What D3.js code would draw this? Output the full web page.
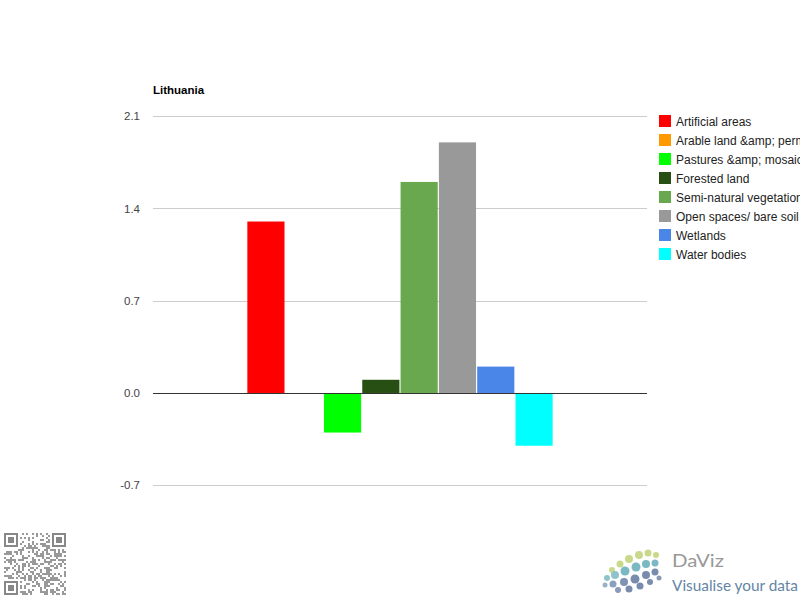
<!DOCTYPE html>
<html><head><meta charset="utf-8">
<script src="https://cdn.jsdelivr.net/npm/d3@7"></script>
<style>html,body{margin:0;padding:0;background:#fff;overflow:hidden}svg{display:block;font-family:"Liberation Sans",Arial,sans-serif}</style>
</head><body>
<script>
const title = "Lithuania";
const categories = ["Lithuania"];
const seriesNames = ["Artificial areas","Arable land &amp; permanent crops","Pastures &amp; mosaic farmland","Forested land","Semi-natural vegetation","Open spaces/ bare soil","Wetlands","Water bodies"];
const seriesColors = ["#ff0000","#ff9900","#00ff00","#274e13","#6aa84f","#999999","#4a86e8","#00ffff"];
const seriesValues = [1.3, 0, -0.3, 0.1, 1.6, 1.9, 0.2, -0.4];
const tickValues = [2.1, 1.4, 0.7, 0.0, -0.7];

(function(){
const W = 800, H = 600;
const svg = d3.select("body").append("svg").attr("width", W).attr("height", H);
const pLeft = 153, pRight = 647, pTop = 116, pBottom = 485.3;

const y = d3.scaleLinear().domain([-0.7, 2.1]).range([pBottom, pTop]);
const x0 = d3.scaleBand().domain(categories).range([pLeft, pRight]).paddingInner(0).paddingOuter(0.309);
const x1 = d3.scaleBand().domain(seriesNames).range([0, x0.bandwidth()]).paddingInner(0.03).paddingOuter(0);

// gridlines
svg.append("g").selectAll("line").data(tickValues).join("line")
  .attr("x1", pLeft).attr("x2", pRight)
  .attr("y1", d => Math.round(y(d)) + 0.5).attr("y2", d => Math.round(y(d)) + 0.5)
  .attr("stroke", "#cccccc").attr("stroke-width", 1);

// axis labels
const fmt = d3.format(".1f");
const yAxis = d3.axisLeft(y).tickValues(tickValues).tickFormat(d => fmt(d).replace("\u2212", "-")).tickSize(0).tickPadding(0);
const ag = svg.append("g").attr("transform", `translate(140,0)`).call(yAxis);
ag.select(".domain").remove();
ag.selectAll("text").attr("fill", "#444").attr("font-size", 11.5).attr("font-family", "Liberation Sans, Arial, sans-serif");

// bars
const g = svg.append("g").attr("transform", `translate(${x0(categories[0])},0)`);
g.selectAll("rect").data(seriesValues.map((v, i) => ({v, name: seriesNames[i], c: seriesColors[i]})))
  .join("rect")
  .attr("x", d => x1(d.name))
  .attr("width", x1.bandwidth())
  .attr("y", d => y(Math.max(0, d.v)))
  .attr("height", d => Math.abs(y(d.v) - y(0)))
  .attr("fill", d => d.c);

// zero line
svg.append("line").attr("x1", pLeft).attr("x2", pRight)
  .attr("y1", Math.round(y(0)) + 0.5).attr("y2", Math.round(y(0)) + 0.5)
  .attr("stroke", "#333").attr("stroke-width", 1);

// title
svg.append("text").attr("x", 153).attr("y", 94).attr("font-size", 11.5).attr("font-weight", "bold").attr("fill", "#000").text(title);

// legend
const lg = svg.append("g").attr("transform", "translate(659,115)");
const items = lg.selectAll("g").data(seriesNames).join("g").attr("transform", (d, i) => `translate(0,${i * 19})`);
items.append("rect").attr("width", 12).attr("height", 12).attr("fill", (d, i) => seriesColors[i]);
items.append("text").attr("x", 17).attr("y", 10.5).attr("font-size", 12).attr("fill", "#222").text(d => d);

// QR-like decoration
const qr = svg.append("g").attr("transform", "translate(4,533)");
const n = 31, cs = 2;
function finder(cx, cy) {
  qr.append("rect").attr("x", cx * cs).attr("y", cy * cs).attr("width", 7 * cs).attr("height", 7 * cs).attr("fill", "#888");
  qr.append("rect").attr("x", (cx + 1) * cs).attr("y", (cy + 1) * cs).attr("width", 5 * cs).attr("height", 5 * cs).attr("fill", "#fff");
  qr.append("rect").attr("x", (cx + 2) * cs).attr("y", (cy + 2) * cs).attr("width", 3 * cs).attr("height", 3 * cs).attr("fill", "#888");
}
const cells = [];
for (let r = 0; r < n; r++) for (let c = 0; c < n; c++) {
  const inF = (r < 8 && c < 8) || (r < 8 && c >= n - 8) || (r >= n - 8 && c < 8);
  if (inF) continue;
  const h = ((r * 73856093) ^ (c * 19349663) ^ (r * c * 83492791)) >>> 0;
  if (h % 7 < 3) cells.push([r, c]);
}
qr.selectAll("rect.m").data(cells).join("rect").attr("class", "m")
  .attr("x", d => d[1] * cs).attr("y", d => d[0] * cs).attr("width", cs).attr("height", cs).attr("fill", "#999");
finder(0, 0); finder(n - 7, 0); finder(0, n - 7);

// DaViz logo
const logo = svg.append("g");
const dots = [
  [612,570,3,"#c9d98a"],[620,564,3.5,"#c9d98a"],[629,559,4,"#c9d98a"],[639,555,4,"#c9d98a"],[648,553,3.5,"#c9d98a"],[656,555,3,"#c9d98a"],
  [607,578,3,"#8fc3cc"],[615,575,4,"#8fc3cc"],[625,571,4.5,"#7ab8c4"],[636,567,4.5,"#7ab8c4"],[646,564,4,"#7ab8c4"],[655,563,3.5,"#7ab8c4"],
  [605,585,2.5,"#9ab0c8"],[613,584,3.5,"#8aa0bd"],[624,582,4,"#7f93b3"],[635,579,4.5,"#7a8cae"],[646,575,4,"#7a8cae"],[655,572,3.5,"#7a8cae"],
  [618,590,3,"#8a9ab8"],[629,589,3.5,"#7a8cae"],[640,586,3.5,"#7a8cae"],[650,582,3,"#7a8cae"],[659,578,2.5,"#8a9ab8"]
];
logo.selectAll("circle").data(dots).join("circle").attr("cx", d => d[0]).attr("cy", d => d[1]).attr("r", d => d[2]).attr("fill", d => d[3]);
logo.append("text").attr("x", 672).attr("y", 567).attr("font-size", 18).attr("fill", "#999").attr("font-family", "Lato, sans-serif")
  .attr("textLength", 52).attr("lengthAdjust", "spacingAndGlyphs").text("DaViz");
logo.append("text").attr("x", 672).attr("y", 591).attr("font-size", 15).attr("fill", "#6585a5").attr("font-family", "Lato, sans-serif")
  .attr("textLength", 126).attr("lengthAdjust", "spacingAndGlyphs").text("Visualise your data");
})();
</script>
</body></html>
